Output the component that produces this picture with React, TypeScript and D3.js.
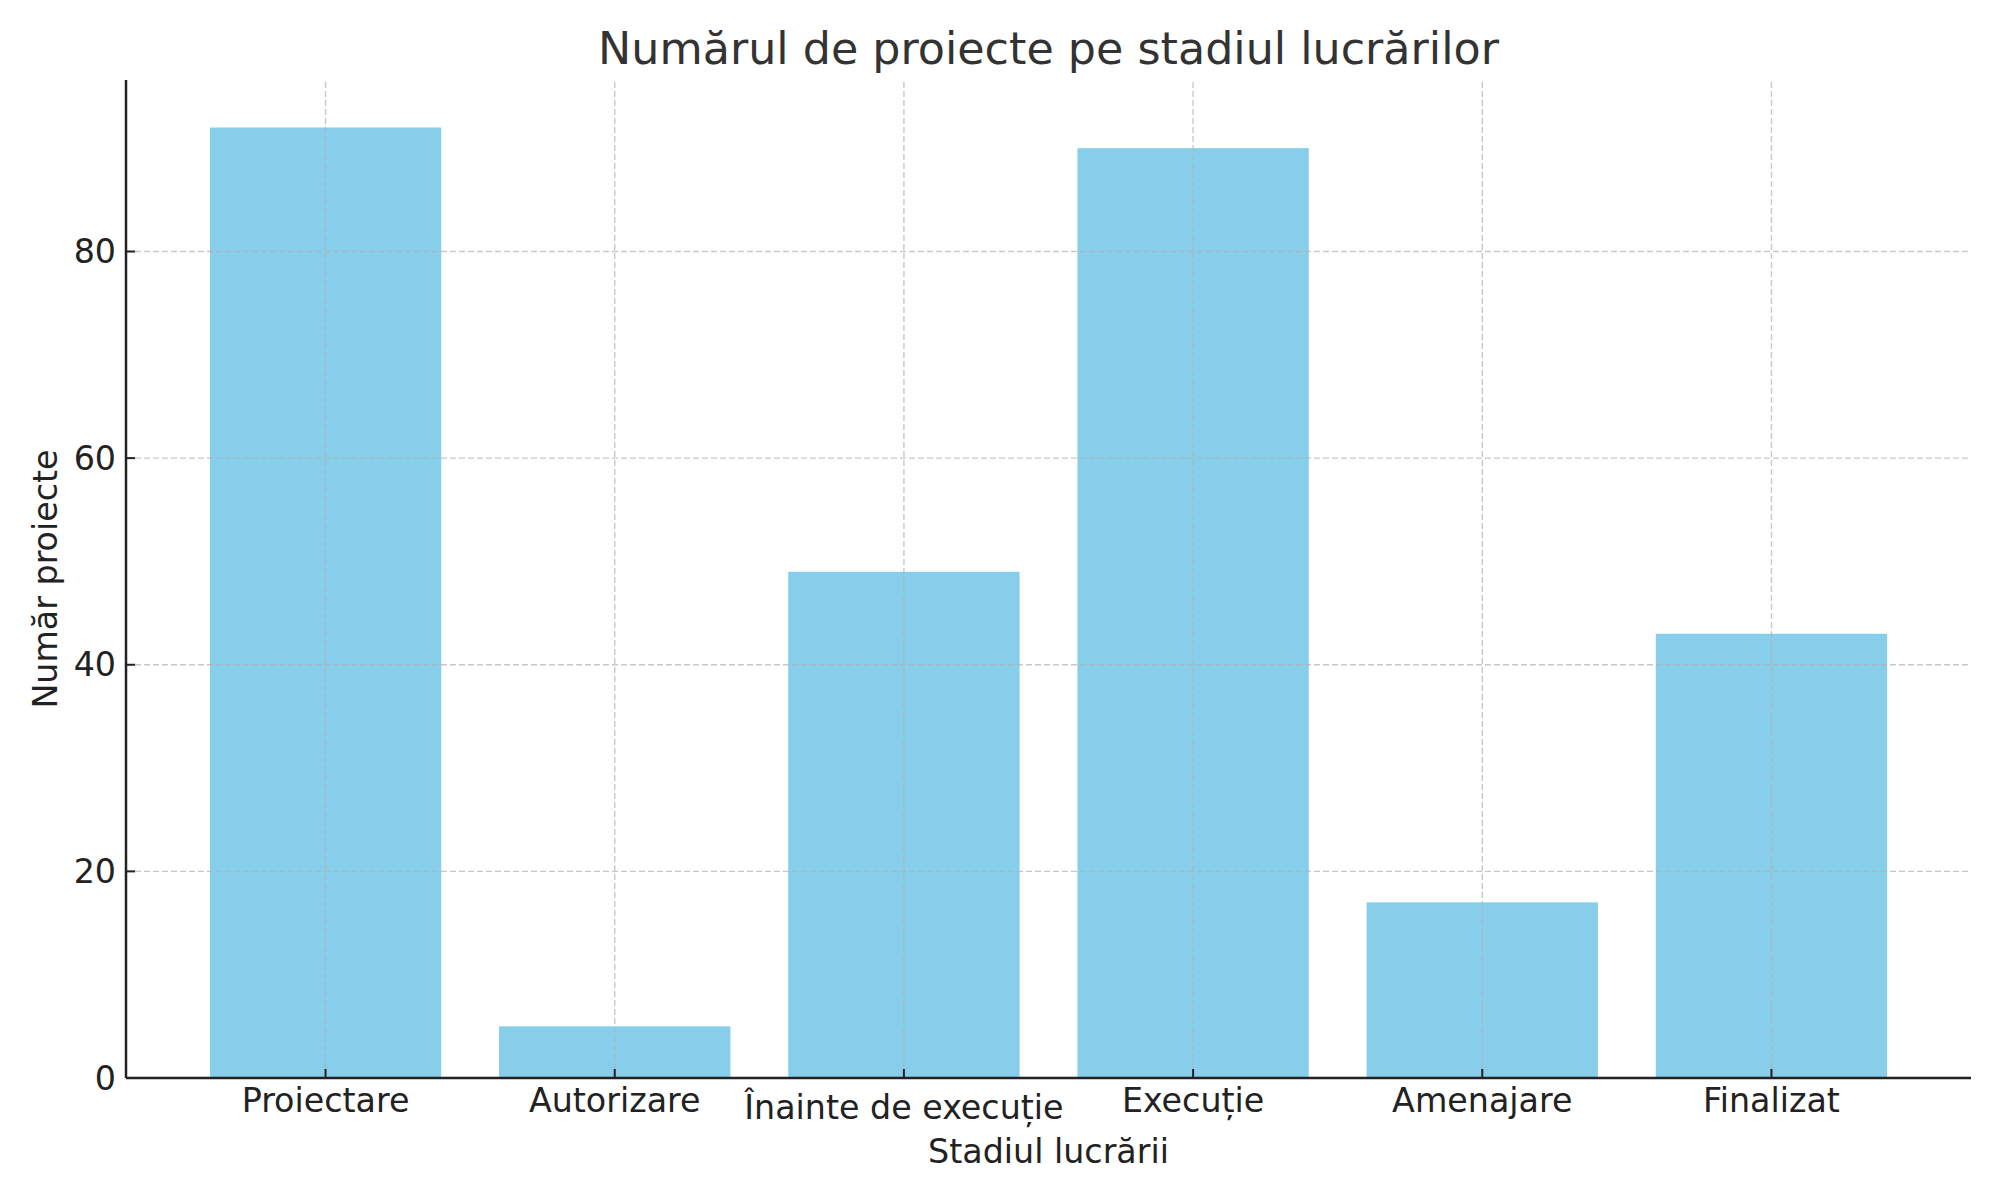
import React from "react";
import * as d3 from "d3";

const categories = ["Proiectare", "Autorizare", "Înainte de execuție", "Execuție", "Amenajare", "Finalizat"];
const values = [92, 5, 49, 90, 17, 43];
const yTicks = [0, 20, 40, 60, 80];
const title = "Numărul de proiecte pe stadiul lucrărilor";
const xLabel = "Stadiul lucrării";
const yLabel = "Număr proiecte";

const W = 2000;
const H = 1200;
const M = { left: 126, right: 29, top: 80, bottom: 122 };

export default function App() {
  const x0 = M.left;
  const x1 = W - M.right;
  const y0 = H - M.bottom;
  const y1 = M.top;
  const n = categories.length;
  const xs = d3.scaleLinear().domain([-0.69, n - 1 + 0.69]).range([x0, x1]);
  const ymax = d3.max(values)! * 1.05;
  const ys = d3.scaleLinear().domain([0, ymax]).range([y0, y1]);
  const bw = xs(0.8) - xs(0);
  const font = "DejaVu Sans, sans-serif";
  const grid = { stroke: "#b0b0b0", strokeOpacity: 0.7, strokeWidth: 1.4, strokeDasharray: "6,3" };
  // matplotlib aligns tick labels by the top of their bounding box; accented capitals push the text down
  const tallShift = (s: string) => (/[ÎÂĂȘȚ]/.test(s) ? 7 : 0);
  return (
    <svg width={W} height={H} style={{ display: "block", position: "absolute", left: 0, top: 0 }} fontFamily={font}>
      <rect width={W} height={H} fill="#fff" />
      {values.map((v, i) => (
        <rect key={i} x={xs(i) - bw / 2} y={ys(v)} width={bw} height={ys(0) - ys(v)} fill="#87CEEB" />
      ))}
      {categories.map((c, i) => (
        <line key={"gx" + i} x1={xs(i)} x2={xs(i)} y1={y0} y2={y1} {...grid} />
      ))}
      {yTicks.map((t) => (
        <line key={"gy" + t} x1={x0} x2={x1} y1={ys(t)} y2={ys(t)} {...grid} />
      ))}
      {categories.map((c, i) => (
        <g key={"tx" + i}>
          <line x1={xs(i)} x2={xs(i)} y1={y0} y2={y0 - 9} stroke="#222" strokeWidth={2} />
          <text x={xs(i)} y={1112 + tallShift(c)} textAnchor="middle" fontSize={33.3} fill="#222">{c}</text>
        </g>
      ))}
      {yTicks.map((t) => (
        <g key={"ty" + t}>
          <line x1={x0} x2={x0 + 9} y1={ys(t)} y2={ys(t)} stroke="#222" strokeWidth={2} />
          <text x={116} y={ys(t)} dy="0.35em" textAnchor="end" fontSize={33.3} fill="#222">{t}</text>
        </g>
      ))}
      <line x1={x0} x2={x1} y1={y0} y2={y0} stroke="#222" strokeWidth={2.5} />
      <line x1={x0} x2={x0} y1={y0} y2={y1} stroke="#222" strokeWidth={2.5} />
      <text x={(x0 + x1) / 2} y={1163} textAnchor="middle" fontSize={33.3} fill="#222">{xLabel}</text>
      <text transform={`translate(45,${(y0 + y1) / 2}) rotate(-90)`} textAnchor="middle" dy="0.35em" fontSize={33.3} fill="#222">{yLabel}</text>
      <text x={(x0 + x1) / 2} y={64} textAnchor="middle" fontSize={44.4} fill="#333">{title}</text>
    </svg>
  );
}
